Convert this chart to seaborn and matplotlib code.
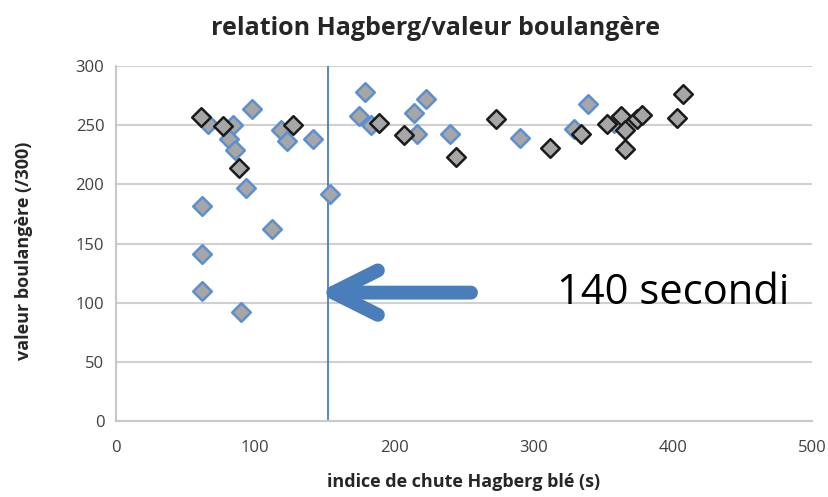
import numpy as np
import pandas as pd
import matplotlib
matplotlib.use("Agg")
import matplotlib.pyplot as plt
import seaborn as sns

# --- data ---
blue_x = [66, 84, 98, 81, 85.5, 93, 62, 112, 61.5, 61.5, 90, 118.5, 123, 141.5,
          154, 179, 174.5, 183, 214, 222.4, 216.4, 240, 290, 329, 339, 358]
blue_y = [251, 250, 263.6, 238.7, 229, 197, 182, 162.7, 141, 110, 92, 246, 237, 238,
          192, 277.7, 258, 250, 260.7, 272.6, 242.4, 243, 239.5, 246.6, 268, 252]

black_x = [61, 76.6, 88.4, 127, 189, 207, 244, 273, 311.8, 334, 352.5, 363,
           365.7, 366, 374, 377.6, 402.7, 407.5]
black_y = [257, 249, 214, 250, 251.7, 241.5, 223.4, 255, 231, 243, 251, 258,
           245.8, 229.7, 255.7, 258.5, 256.5, 276]

threshold_x = 152
arrow_tail = (255, 108.5)
arrow_tip = (145, 108.5)
note = "140 secondi"

title = "relation Hagberg/valeur boulangère"
xlabel = "indice de chute Hagberg blé (s)"
ylabel = "valeur boulangère (/300)"

blue_df = pd.DataFrame({"hagberg": blue_x, "valeur": blue_y})
black_df = pd.DataFrame({"hagberg": black_x, "valeur": black_y})

sns.set_style("white")
plt.rcParams["font.family"] = ["Open Sans", "DejaVu Sans"]

fig = plt.figure(figsize=(8.29, 4.97), dpi=100)
ax = fig.add_axes([0.14, 0.153, 0.8395, 0.714])

ax.set_xlim(0, 500)
ax.set_ylim(0, 300)
ax.set_yticks(np.arange(0, 301, 50))
ax.set_xticks(np.arange(0, 501, 100))
ax.yaxis.grid(True, color="#d0d0d0", linewidth=1.5)
ax.set_axisbelow(True)

for side in ["top", "right"]:
    ax.spines[side].set_visible(False)
for side in ["left", "bottom"]:
    ax.spines[side].set_color("#c8c8c8")
    ax.spines[side].set_linewidth(1.5)
ax.tick_params(axis="both", direction="out", length=5, width=1.2, color="#c8c8c8",
               labelsize=12, labelcolor="#404040")
ax.tick_params(axis="x", pad=9)

ax.axvline(threshold_x, color="#4a7ebb", linewidth=1.3, zorder=1)

sns.scatterplot(data=blue_df, x="hagberg", y="valeur", marker="D", s=90,
                color="#a6a6a6", edgecolor="#5b8fd0", linewidth=1.8, ax=ax, zorder=3)
sns.scatterplot(data=black_df, x="hagberg", y="valeur", marker="D", s=90,
                color="#a6a6a6", edgecolor="#1a1a1a", linewidth=1.8, ax=ax, zorder=4)

ax.annotate("", xy=arrow_tip, xytext=arrow_tail,
            arrowprops=dict(arrowstyle="->,head_length=1.6,head_width=0.8",
                            mutation_scale=20, color="#4a7ebb", lw=10,
                            capstyle="round", joinstyle="round",
                            shrinkA=0, shrinkB=0))
ax.text(317, 108.5, note, fontsize=30, color="black", va="center", ha="left",
        family=["Open Sans", "DejaVu Sans"])

fig.text(0.526, 0.943, title, fontsize=18, fontweight="bold", ha="center", va="center")
ax.set_xlabel(xlabel, fontsize=13, fontweight="bold", labelpad=12)
ax.set_ylabel(ylabel, fontsize=13, fontweight="bold")
ax.yaxis.set_label_coords(-0.12, 0.48)

fig.savefig("out.png", dpi=100)
